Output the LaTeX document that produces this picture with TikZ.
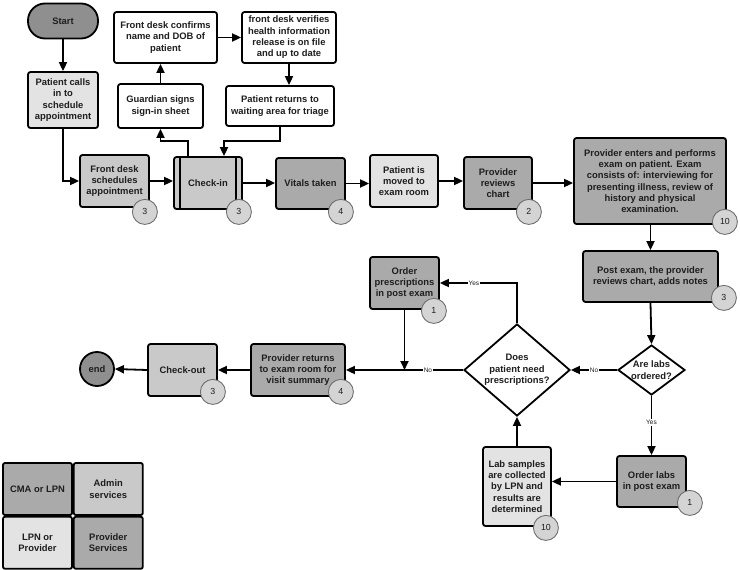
\documentclass[tikz,border=0pt]{standalone}
\usepackage{fontspec}
\setmainfont{Liberation Sans}
\usepackage{tikz}
\usetikzlibrary{arrows.meta, positioning, shapes.geometric, calc}
\definecolor{pfDark}{HTML}{AAAAAA}
\definecolor{pfTerm}{HTML}{8F8F8F}
\definecolor{pfMid}{HTML}{C9C9C9}
\definecolor{pfLight}{HTML}{E3E3E3}
\definecolor{pfBadge}{HTML}{D4D4D4}
\definecolor{pfBadgeLine}{HTML}{6E6E6E}
\definecolor{pfText}{HTML}{1E1E1E}
\newcommand{\pfFont}{\fontsize{9.4}{11.3}\selectfont\bfseries}
\tikzset{
  pf-box/.style={
    rectangle, rounded corners=2.5pt, draw=black, line width=1.8pt,
    align=center, inner sep=1pt, text=pfText, font=\pfFont
  },
  pf-dark/.style={pf-box, fill=pfDark},
  pf-mid/.style={pf-box, fill=pfMid},
  pf-light/.style={pf-box, fill=pfLight},
  pf-plain/.style={pf-box, fill=white},
  pf-term/.style={pf-box, fill=pfTerm, rounded corners=17pt},
  pf-decide/.style={
    diamond, draw=black, line width=1.8pt, fill=white, align=center,
    inner sep=0pt, text=pfText, font=\pfFont
  },
  pf-badge/.style={
    circle, draw=pfBadgeLine, fill=pfBadge, line width=0.9pt,
    minimum size=25pt, inner sep=0pt, text=pfText,
    font=\fontsize{8.8}{10}\selectfont
  },
  pf-key/.style={pf-box, rounded corners=2pt, minimum width=69pt, minimum height=52pt},
  pf-flow/.style={-{Triangle[length=9pt,width=8pt]}, line width=1.8pt, draw=black},
  pf-tag/.style={fill=white, inner sep=0.8pt, text=pfText, font=\fontsize{6.5}{7.5}\selectfont},
}

\begin{document}
\begin{tikzpicture}[x=1pt, y=-1pt]
  \useasboundingbox (0,0) rectangle (740,570);

  % scheduling
  \node[pf-term, minimum width=70pt, minimum height=35pt] (start) at (63,21) {Start};
  \node[pf-light, minimum width=70pt, minimum height=56pt] (calls) at (63,100) {Patient calls\\in to\\schedule\\appointment};
  \node[pf-mid, minimum width=69pt, minimum height=52pt] (sched) at (114.5,181) {Front desk\\schedules\\appointment};
  \node[pf-mid, minimum width=68pt, minimum height=52pt] (checkin) at (208,183) {Check-in};
  \draw[line width=1.4pt] ($(checkin.north west)+(7,0)$) -- ($(checkin.south west)+(7,0)$);
  \draw[line width=1.4pt] ($(checkin.north east)+(-7,0)$) -- ($(checkin.south east)+(-7,0)$);

  % check-in loop
  \node[pf-plain, minimum width=103pt, minimum height=51pt] (confirm) at (165.5,37.5) {Front desk confirms\\name and DOB of\\patient};
  \node[pf-plain, minimum width=94pt, minimum height=51pt] (verify) at (289,37.5) {front desk verifies\\health information\\release is on file\\and up to date};
  \node[pf-plain, minimum width=85pt, minimum height=44pt] (guardian) at (160.5,106) {Guardian signs\\sign-in sheet};
  \node[pf-plain, minimum width=108pt, minimum height=40pt] (returns) at (280,106) {Patient returns to\\waiting area for triage};

  % exam
  \node[pf-dark, minimum width=69pt, minimum height=51pt] (vitals) at (310.5,183.5) {Vitals taken};
  \node[pf-light, minimum width=68pt, minimum height=52pt] (moved) at (404,181) {Patient is\\moved to\\exam room};
  \node[pf-dark, minimum width=68pt, minimum height=52pt] (reviews) at (498,183) {Provider\\reviews\\chart};
  \node[pf-dark, minimum width=152pt, minimum height=86pt] (exam) at (650,181) {Provider enters and performs\\exam on patient. Exam\\consists of: interviewing for\\presenting illness, review of\\history and physical\\examination.};
  \node[pf-dark, minimum width=135pt, minimum height=51pt] (post) at (650.5,276.5) {Post exam, the provider\\reviews chart, adds notes};

  % decisions
  \node[pf-decide, minimum width=67pt, minimum height=50pt, aspect=1.34, inner sep=-4pt] (labs) at (651.5,370) {Are labs\\ordered?};
  \node[pf-decide, minimum width=106pt, minimum height=92pt, inner sep=-3pt] (rx) at (517,370) {Does\\patient need\\prescriptions?};
  \node[pf-dark, minimum width=69pt, minimum height=51pt] (orderlabs) at (651.5,481.5) {Order labs\\in post exam};
  \node[pf-light, minimum width=68pt, minimum height=79pt] (samples) at (517,486.5) {Lab samples\\are collected\\by LPN and\\results are\\determined};
  \node[pf-dark, minimum width=69pt, minimum height=52pt] (orderrx) at (404.5,283) {Order\\prescriptions\\in post exam};

  % wrap up
  \node[pf-dark, minimum width=94pt, minimum height=52pt] (back) at (298,370) {Provider returns\\to exam room for\\visit summary};
  \node[pf-mid, minimum width=69pt, minimum height=52pt] (checkout) at (182.5,370) {Check-out};
  \node[pf-term, circle, minimum size=34pt, inner sep=0pt] (end) at (97,369) {end};

  % connectors
  \draw[pf-flow] (start) -- (calls);
  \draw[pf-flow] (calls.south) |- (sched.west);
  \draw[pf-flow] (sched.east) -- (sched.east -| checkin.west);
  \coordinate (ciup) at (188,141);
  \coordinate (rtdown) at (224,141);
  \draw[pf-flow] (checkin.north -| ciup) -- (ciup) -| (guardian.south);
  \draw[pf-flow] (guardian.north) -- (guardian.north |- confirm.south);
  \draw[pf-flow] (confirm.east) -- (confirm.east -| verify.west);
  \draw[pf-flow] (verify.south) -- (verify.south |- returns.north);
  \draw[pf-flow] (returns.south) |- (rtdown) -- (rtdown |- checkin.north);
  \draw[pf-flow] (checkin.east) -- (checkin.east -| vitals.west);
  \draw[pf-flow] (vitals.east) -- (vitals.east -| moved.west);
  \draw[pf-flow] (moved.east) -- (moved.east -| reviews.west);
  \draw[pf-flow] (reviews.east) -- (reviews.east -| exam.west);
  \draw[pf-flow] (exam.south -| post.north) -- (post.north);
  \draw[pf-flow] (post.south) -- (labs.north);
  \draw[pf-flow] (labs.west) -- (rx.east) node[pf-tag, pos=0.5]{No};
  \draw[pf-flow] (labs.south) -- (orderlabs.north) node[pf-tag, pos=0.45]{Yes};
  \draw[pf-flow] (orderlabs.west) -- (orderlabs.west -| samples.east);
  \draw[pf-flow] (samples.north) -- (rx.south);
  \draw[pf-flow] (rx.north) |- (orderrx.east) node[pf-tag, pos=0.78]{Yes};
  \draw[pf-flow] (rx.west) -- (back.east) node[pf-tag, pos=0.3]{No};
  \draw[pf-flow] (orderrx.south) -- (orderrx.south |- back.east);
  \draw[pf-flow] (back.west) -- (checkout.east);
  \draw[pf-flow] (checkout.west) -- (end.east);

  % time badges
  \node[pf-badge] (schedN) at ($(sched.south east)+(-5,4)$) {3};
  \node[pf-badge] (checkinN) at ($(checkin.south east)+(-4,2)$) {3};
  \node[pf-badge] (vitalsN) at ($(vitals.south east)+(-5,2)$) {4};
  \node[pf-badge] (reviewsN) at ($(reviews.south east)+(-4,2)$) {2};
  \node[pf-badge] (examN) at ($(exam.south east)+(-2,-3)$) {10};
  \node[pf-badge] (postN) at ($(post.south east)+(5,-5)$) {3};
  \node[pf-badge] (orderrxN) at ($(orderrx.south east)+(-6,1)$) {1};
  \node[pf-badge] (backN) at ($(back.south east)+(-5,-5)$) {4};
  \node[pf-badge] (checkoutN) at ($(checkout.south east)+(-5,-5)$) {3};
  \node[pf-badge] (samplesN) at ($(samples.south east)+(-6,1)$) {10};
  \node[pf-badge] (orderlabsN) at ($(orderlabs.south east)+(3,-5)$) {1};

  % legend
  \node[pf-key, fill=pfDark] (keyCma) at (37.5,489) {CMA or LPN};
  \node[pf-key, fill=pfMid, right=0pt of keyCma] (keyAdmin) {Admin\\services};
  \node[pf-key, fill=pfLight, below=0pt of keyCma] (keyLpn) {LPN or\\Provider};
  \node[pf-key, fill=pfDark, right=0pt of keyLpn] (keyProv) {Provider\\Services};
\end{tikzpicture}
\end{document}
